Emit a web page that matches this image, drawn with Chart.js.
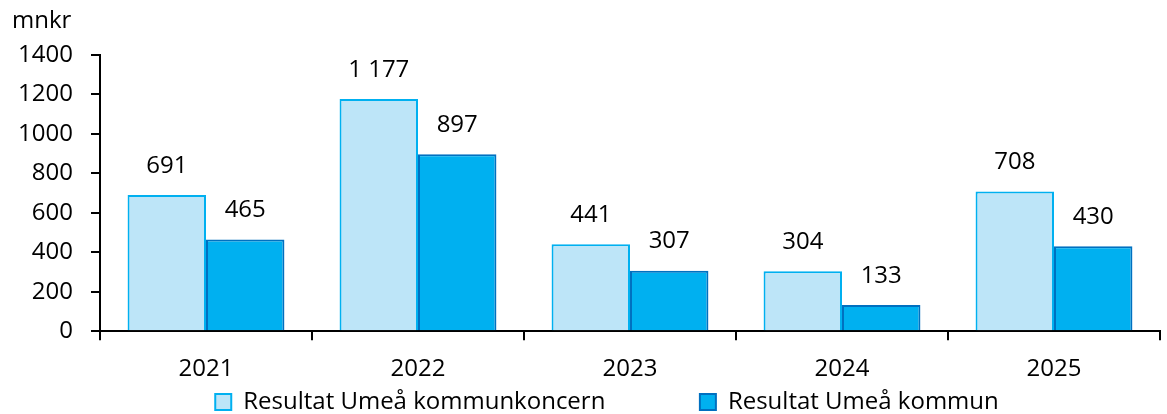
<!DOCTYPE html>
<html>
<head>
<meta charset="utf-8">
<script src="https://cdn.jsdelivr.net/npm/chart.js@4/dist/chart.umd.min.js"></script>
<style>
  html, body { margin: 0; padding: 0; background: #fff; }
  #wrap { width: 1167px; height: 414px; position: relative; }
</style>
</head>
<body>
<div id="wrap"><canvas id="c"></canvas></div>
<script>
const years = ['2021', '2022', '2023', '2024', '2025'];
const koncern = [691, 1177, 441, 304, 708];
const kommun = [465, 897, 307, 133, 430];
const seriesNames = ['Resultat Umeå kommunkoncern', 'Resultat Umeå kommun'];
const unitLabel = 'mnkr';

const FONT = '"Open Sans", Calibri, sans-serif';
const FS = 24;

// value labels above bars, "1 177" style
const valueLabels = {
  id: 'valueLabels',
  afterDatasetsDraw(chart) {
    const ctx = chart.ctx;
    ctx.save();
    ctx.font = FS + 'px ' + FONT;
    ctx.fillStyle = '#000';
    ctx.textAlign = 'center';
    ctx.textBaseline = 'middle';
    chart.data.datasets.forEach((ds, i) => {
      chart.getDatasetMeta(i).data.forEach((bar, j) => {
        const txt = String(ds.data[j]).replace(/\B(?=(\d{3})+(?!\d))/g, ' ');
        ctx.fillText(txt, bar.x, bar.y - 29);
      });
    });
    ctx.restore();
  }
};

const unitTitle = {
  id: 'unitTitle',
  afterDraw(chart) {
    const ctx = chart.ctx;
    ctx.save();
    ctx.font = FS + 'px ' + FONT;
    ctx.fillStyle = '#000';
    ctx.textBaseline = 'middle';
    ctx.fillText(unitLabel, 12, 21);
    ctx.restore();
  }
};

// nudge the legend a bit right, like the original
const legendShift = {
  id: 'legendShift',
  afterLayout(chart) {
    chart.legend.left += 27;
    chart.legend.right += 27;
  }
};

new Chart(document.getElementById('c'), {
  type: 'bar',
  data: {
    labels: years,
    datasets: [
      {
        label: seriesNames[0],
        data: koncern,
        backgroundColor: '#BDE5F8',
        borderColor: '#00B0F0',
        borderWidth: 2,
        categoryPercentage: 0.74,
        barPercentage: 1.0
      },
      {
        label: seriesNames[1],
        data: kommun,
        backgroundColor: '#00B0F0',
        borderColor: '#0070C0',
        borderWidth: 2,
        categoryPercentage: 0.74,
        barPercentage: 1.0
      }
    ]
  },
  options: {
    responsive: true,
    maintainAspectRatio: false,
    animation: false,
    layout: { padding: { top: 55, right: 7, left: 0, bottom: -10 } },
    plugins: {
      legend: {
        position: 'bottom',
        labels: {
          font: { size: FS, family: FONT },
          color: '#000',
          boxWidth: 16,
          boxHeight: 16,
          padding: 1,
          generateLabels(chart) {
            const items = Chart.defaults.plugins.legend.labels.generateLabels(chart);
            items[0].text = items[0].text + ' '.repeat(15);
            return items;
          }
        }
      },
      tooltip: { enabled: false }
    },
    scales: {
      x: {
        offset: true,
        afterFit(scale) { scale.height -= 10; },
        grid: {
          offset: true,
          drawOnChartArea: false,
          drawTicks: true,
          tickLength: 9,
          color: '#000',
          lineWidth: 2
        },
        border: { color: '#000', width: 2 },
        ticks: { font: { size: FS, family: FONT }, color: '#000', padding: 15 }
      },
      y: {
        min: 0,
        max: 1400,
        afterFit(scale) { scale.width = 100; },
        grid: {
          drawOnChartArea: false,
          drawTicks: true,
          tickLength: 9,
          color: '#000',
          lineWidth: 2
        },
        border: { color: '#000', width: 2 },
        ticks: {
          stepSize: 200,
          font: { size: FS, family: FONT },
          color: '#000',
          padding: 18,
          callback: (v) => String(v)
        }
      }
    }
  },
  plugins: [valueLabels, unitTitle, legendShift]
});
</script>
</body>
</html>
